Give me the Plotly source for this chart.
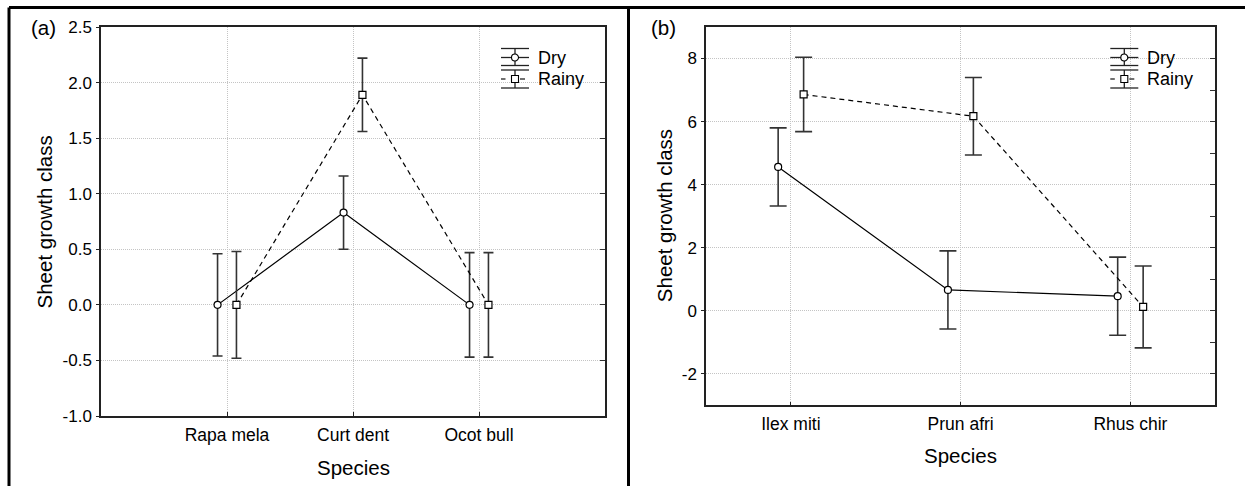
import plotly.graph_objects as go

# ---------------- data ----------------
species_a = ["Rapa mela", "Curt dent", "Ocot bull"]
dry_a = [0.0, 0.83, 0.0]
dry_a_err = [0.46, 0.33, 0.47]
rainy_a = [0.0, 1.89, 0.0]
rainy_a_err = [0.48, 0.33, 0.47]

species_b = ["Ilex miti", "Prun afri", "Rhus chir"]
dry_b = [4.56, 0.66, 0.46]
dry_b_err = [1.24, 1.24, 1.24]
rainy_b = [6.86, 6.17, 0.12]
rainy_b_err = [1.18, 1.23, 1.30]

series_names = ["Dry", "Rainy"]
yticks_a = [-1.0, -0.5, 0.0, 0.5, 1.0, 1.5, 2.0, 2.5]
yticks_b = [-2, 0, 2, 4, 6, 8]

# ---------------- layout helpers ----------------
W, H = 1245, 486
FONT = "Liberation Sans, Arial, sans-serif"
OFF = 0.075  # horizontal dodge of the two series


def px(x):
    return x / W


def py(y):
    return 1 - y / H


fig = go.Figure()


def add_panel(xa, ya, cats, dry, dry_err, rainy, rainy_err, capw):
    pos = list(range(1, len(cats) + 1))
    xd = [p - OFF for p in pos]
    xr = [p + OFF for p in pos]
    fig.add_trace(go.Scatter(
        x=xd, y=dry, name=series_names[0], mode="lines+markers",
        xaxis=xa, yaxis=ya, showlegend=False,
        line=dict(color="black", width=1.2),
        marker=dict(symbol="circle", size=7, color="white",
                    line=dict(color="black", width=1.2)),
        error_y=dict(type="data", array=dry_err, visible=True,
                     color="#333333", thickness=1.6, width=capw)))
    fig.add_trace(go.Scatter(
        x=xr, y=rainy, name=series_names[1], mode="lines+markers",
        xaxis=xa, yaxis=ya, showlegend=False,
        line=dict(color="black", width=1.2, dash="5px,4px"),
        marker=dict(symbol="square", size=7, color="white",
                    line=dict(color="black", width=1.2)),
        error_y=dict(type="data", array=rainy_err, visible=True,
                     color="#333333", thickness=1.6, width=capw)))


add_panel("x", "y", species_a, dry_a, dry_a_err, rainy_a, rainy_a_err, 5)
add_panel("x2", "y2", species_b, dry_b, dry_b_err, rainy_b, rainy_b_err, 8.5)
# empty traces to make the right-side tick axes render
fig.add_trace(go.Scatter(x=[], y=[], xaxis="x", yaxis="y3", showlegend=False))
fig.add_trace(go.Scatter(x=[], y=[], xaxis="x2", yaxis="y4", showlegend=False))

# plot-area pixel boxes
A = dict(l=101, r=605, t=27, b=416)
B = dict(l=706, r=1215.3, t=27, b=405.3)

grid = dict(showgrid=True, gridcolor="#c4c4c4", gridwidth=1, griddash="1px,1px",
            zeroline=False, showline=True, linecolor="#222222", linewidth=1.5,
            mirror=True, automargin=False)
tickfont_x = dict(family=FONT, size=17.5, color="black")
tickfont_y = dict(family=FONT, size=17, color="black")

fig.update_layout(
    width=W, height=H, autosize=False,
    margin=dict(l=0, r=0, t=0, b=0, pad=0, autoexpand=False),
    paper_bgcolor="white", plot_bgcolor="white",
    showlegend=False,
    xaxis=dict(domain=[px(A["l"]), px(A["r"])], anchor="y", range=[0, 4],
               tickmode="array", tickvals=[1, 2, 3], ticktext=species_a,
               ticks="inside", ticklen=4, tickcolor="#222222",
               tickfont=tickfont_x, ticklabelstandoff=2, **grid),
    yaxis=dict(domain=[py(A["b"]), py(A["t"])], anchor="x", range=[-1.0, 2.5],
               tickmode="array", tickvals=yticks_a,
               ticktext=[f"{v:.1f}" for v in yticks_a],
               ticks="outside", ticklen=3, tickcolor="#222222",
               tickfont=tickfont_y, ticklabelstandoff=1, **grid),
    yaxis3=dict(overlaying="y", anchor="x", side="right", range=[-1.0, 2.5],
                tickmode="linear", tick0=-1.0, dtick=0.5, ticks="inside",
                ticklen=5, tickcolor="#333333", showticklabels=False,
                showgrid=False, showline=False, zeroline=False, automargin=False),
    xaxis2=dict(domain=[px(B["l"]), px(B["r"])], anchor="y2", range=[0.5, 3.5],
                tickmode="array", tickvals=[1, 2, 3], ticktext=species_b,
                ticks="inside", ticklen=4, tickcolor="#222222",
                tickfont=tickfont_x, ticklabelstandoff=2, **grid),
    yaxis2=dict(domain=[py(B["b"]), py(B["t"])], anchor="x2", range=[-3, 9],
                tickmode="array", tickvals=yticks_b,
                ticktext=[str(v) for v in yticks_b],
                ticks="outside", ticklen=3, tickcolor="#222222",
                tickfont=tickfont_y, ticklabelstandoff=1, **grid),
    yaxis4=dict(overlaying="y2", anchor="x2", side="right", range=[-3, 9],
                tickmode="linear", tick0=-3, dtick=1, ticks="inside",
                ticklen=5, tickcolor="#333333", showticklabels=False,
                showgrid=False, showline=False, zeroline=False, automargin=False),
)

shapes = []
annotations = []

# outer figure frame (left, top, divider)
frame = dict(color="black", width=3)
shapes.append(dict(type="line", xref="paper", yref="paper",
                   x0=px(9), x1=px(9), y0=0, y1=py(7.5), line=frame))
shapes.append(dict(type="line", xref="paper", yref="paper",
                   x0=px(9), x1=1, y0=py(7.5), y1=py(7.5), line=frame))
shapes.append(dict(type="line", xref="paper", yref="paper",
                   x0=px(628.5), x1=px(628.5), y0=0, y1=py(7.5), line=frame))


def text(x, y, s, size, angle=0, xanchor="center"):
    annotations.append(dict(x=px(x), y=py(y), xref="paper", yref="paper",
                            text=s, showarrow=False, textangle=angle,
                            xanchor=xanchor, yanchor="middle",
                            font=dict(family=FONT, size=size, color="black")))


# panel labels and axis titles
text(43.5, 28, "(a)", 20.5)
text(663, 28, "(b)", 20.5)
text(44, (A["t"] + A["b"]) / 2, "Sheet growth class", 20.5, angle=-90)
text(664, (B["t"] + B["b"]) / 2, "Sheet growth class", 20.5, angle=-90)
text((A["l"] + A["r"]) / 2, 467, "Species", 20.5)
text((B["l"] + B["r"]) / 2, 455, "Species", 20.5)


# custom legends (error-bar glyphs)
def legend(right):
    x0 = right - 104
    x1 = x0 + 28
    xc = x0 + 14
    ln = dict(color="#222222", width=1.3)
    rows = [(48.5, 57.5, 65.5, series_names[0], "circle"),
            (70, 79, 88, series_names[1], "square")]
    for top, mid, bot, name, sym in rows:
        for yy in (top, bot):
            shapes.append(dict(type="line", xref="paper", yref="paper",
                               x0=px(x0), x1=px(x1), y0=py(yy), y1=py(yy), line=ln))
        shapes.append(dict(type="line", xref="paper", yref="paper",
                           x0=px(xc), x1=px(xc), y0=py(top), y1=py(bot), line=ln))
        if sym == "circle":
            shapes.append(dict(type="line", xref="paper", yref="paper",
                               x0=px(x0), x1=px(x1), y0=py(mid), y1=py(mid), line=ln))
            shapes.append(dict(type="circle", xref="paper", yref="paper",
                               x0=px(xc - 3.5), x1=px(xc + 3.5),
                               y0=py(mid + 3.5), y1=py(mid - 3.5),
                               line=dict(color="black", width=1.1),
                               fillcolor="white"))
        else:
            for a, b in ((x0, x0 + 4.5), (x0 + 19, x0 + 24)):
                shapes.append(dict(type="line", xref="paper", yref="paper",
                                   x0=px(a), x1=px(b), y0=py(mid), y1=py(mid), line=ln))
            shapes.append(dict(type="rect", xref="paper", yref="paper",
                               x0=px(xc - 3.5), x1=px(xc + 3.5),
                               y0=py(mid + 3.5), y1=py(mid - 3.5),
                               line=dict(color="black", width=1.1),
                               fillcolor="white"))
        text(x1 + 6.5, mid, name, 18, xanchor="left")


legend(A["r"])
legend(B["r"] - 1)

fig.update_layout(shapes=shapes, annotations=annotations)
fig.write_html("out.html")
